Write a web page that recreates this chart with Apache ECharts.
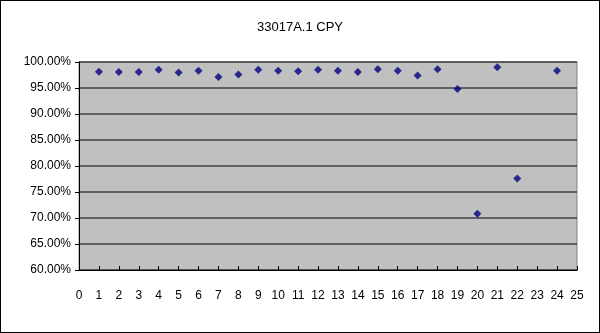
<!DOCTYPE html>
<html><head><meta charset="utf-8">
<script src="https://cdn.jsdelivr.net/npm/echarts@6/dist/echarts.min.js"></script>
<style>html,body{margin:0;padding:0;background:#fff}#c{width:598px;height:331px;border:1px solid #000}</style>
</head><body><div id="c"></div>
<script>
const titleText = '33017A.1 CPY';
const xValues = [1,2,3,4,5,6,7,8,9,10,11,12,13,14,15,16,17,18,19,20,21,22,24];
const yValues = [0.9813,0.981,0.981,0.985,0.980,0.983,0.971,0.976,0.985,0.983,0.982,0.985,0.983,0.981,0.986,0.983,0.974,0.986,0.948,0.708,0.990,0.776,0.983];
const data = xValues.map((x,i)=>[x,yValues[i]]);
const chart = echarts.init(document.getElementById('c'));
const font = 'Liberation Sans, Arial, sans-serif';
chart.setOption({
  animation:false,
  backgroundColor:'#fff',
  title:{text:titleText,left:'center',top:15,textStyle:{fontFamily:font,fontSize:13,fontWeight:'normal',color:'#000'}},
  grid:{left:78,right:22,top:61,bottom:62,show:true,backgroundColor:'#c0c0c0',borderColor:'#808080',borderWidth:1},
  xAxis:{type:'value',min:0,max:25,interval:1,
    axisLine:{show:true,onZero:false,lineStyle:{color:'#000',width:1}},
    axisTick:{show:true,inside:true,length:4,lineStyle:{color:'#000'}},
    axisLabel:{margin:20,fontFamily:font,fontSize:12,color:'#000'},
    splitLine:{show:false}},
  yAxis:{type:'value',min:0.6,max:1.0,interval:0.05,
    axisLine:{show:true,lineStyle:{color:'#000',width:1}},
    axisTick:{show:true,inside:false,length:4,lineStyle:{color:'#000'}},
    axisLabel:{margin:8,fontFamily:font,fontSize:12,color:'#000',formatter:v=>(v*100).toFixed(2)+'%'},
    splitLine:{show:true,lineStyle:{color:'#404040',width:1.5}}},
  series:[{type:'scatter',data:data,symbol:'diamond',symbolSize:8,itemStyle:{color:'#000080'}}]
});
</script></body></html>
